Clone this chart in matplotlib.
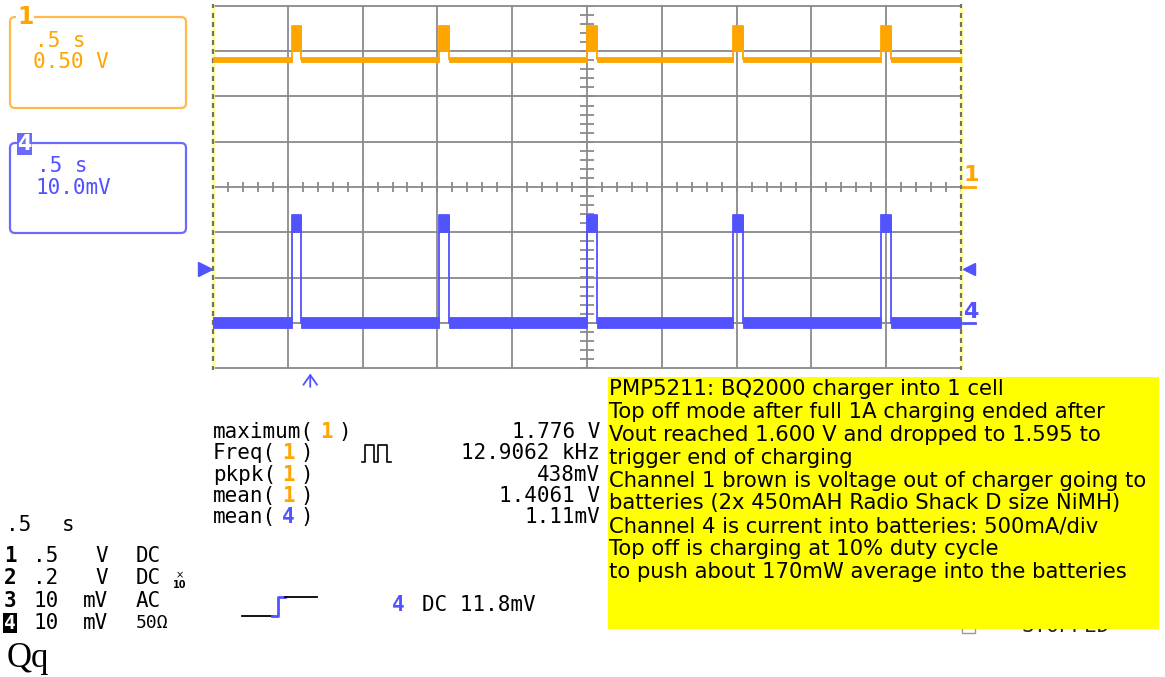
import numpy as np
import matplotlib
matplotlib.use("Agg")
import matplotlib.pyplot as plt
from matplotlib.patches import FancyBboxPatch, Rectangle
from matplotlib.lines import Line2D
from matplotlib.transforms import Affine2D, blended_transform_factory

W, H = 1165, 677

#acquisition settings
TIME_DIV = 0.5          # s/div
CH1_VDIV = 0.5          # V/div
CH4_VDIV = 10.0         # mV/div
CH1_POS = 0.0           # trace position, divisions
CH4_POS = -3.0
N_XDIV, N_YDIV = 10, 8

#top-off pulses, same instants on both channels (s)
pulse_start = [-1.970, -0.991, 0.000, 0.976, 1.965]
pulse_width = [0.060, 0.066, 0.066, 0.064, 0.064]

#channel 1: charger output voltage (V)
ch1_base = 1.41
ch1_noise = 0.025
ch1_pulse_low = 1.50
ch1_pulse_max = 1.776

#channel 4: current probe (mV)
ch4_base = 0.0
ch4_noise = 1.2
ch4_pulse_low = 20.0
ch4_pulse_max = 23.9
trig_level = 11.8       # mV
trig_time = -1.85       # s

#measurements panel
meas_names = ["maximum", "Freq", "pkpk", "mean", "mean"]
meas_chan = ["1", "1", "1", "1", "4"]
meas_values = ["1.776 V", "12.9062 kHz", "438mV", "1.4061 V", "1.11mV"]

#vertical setup table
chan_ids = ["1", "2", "3", "4"]
chan_scale = [".5", ".2", "10", "10"]
chan_unit = ["V", "V", "mV", "mV"]
chan_coupling = ["DC", "DC", "AC", "50Ω"]

notes = [
    "PMP5211: BQ2000 charger into 1 cell",
    "Top off mode after full 1A charging ended after",
    "Vout reached 1.600 V and dropped to 1.595 to",
    "trigger end of charging",
    "Channel 1 brown is voltage out of charger going to",
    "batteries (2x 450mAH Radio Shack D size NiMH)",
    "Channel 4 is current into batteries: 500mA/div",
    "Top off is charging at 10% duty cycle",
    "to push about 170mW average into the batteries",
]

ORANGE = "#ffa500"
ORANGE_BOX = "#ffb84a"
BLUE = "#5252ff"
BLUE_BOX = "#6a6aff"
GRID = "#8a8a8a"
MONO = "DejaVu Sans Mono"

fig = plt.figure(figsize=(W / 100, H / 100), dpi=100)
fig.patch.set_facecolor("white")
#pixel space, origin top-left
pix = Affine2D().scale(1 / W, -1 / H).translate(0, 1) + fig.transFigure
renderer = fig.canvas.get_renderer()


def T(x, y, s, **kw):
    kw.setdefault("va", "center")
    kw.setdefault("ha", "left")
    return fig.text(x, y, s, transform=pix, **kw)


def chain(x, y, parts, gap=2, **kw):
    #draw text pieces one after the other
    for s, color in parts:
        t = T(x, y, s, color=color, **kw)
        x = t.get_window_extent(renderer).x1 + gap
    return x


def pline(xs, ys, **kw):
    fig.add_artist(Line2D(xs, ys, transform=pix, **kw))


#graticule
ax = fig.add_axes([213 / W, 1 - 368 / H, 748 / W, 362 / H])
xmin, xmax = -N_XDIV / 2 * TIME_DIV, N_XDIV / 2 * TIME_DIV
ax.set_xlim(xmin, xmax)
ax.set_ylim(-N_YDIV / 2, N_YDIV / 2)
ax.axis("off")

xdivs = np.arange(-N_XDIV / 2, N_XDIV / 2 + 1) * TIME_DIV
for x in xdivs[1:-1]:
    ax.axvline(x, color=GRID, lw=1.3, zorder=1, clip_on=False)
for y in range(-N_YDIV // 2, N_YDIV // 2 + 1):
    ax.axhline(y, color=GRID, lw=1.3, zorder=1, clip_on=False)

minor_x = np.arange(-N_XDIV / 2, N_XDIV / 2 + 0.01, 0.2) * TIME_DIV
minor_y = np.arange(-N_YDIV / 2, N_YDIV / 2 + 0.01, 0.2)
ax.vlines(minor_x, -0.1, 0.1, color=GRID, lw=1.3, zorder=1)
ax.hlines(minor_y, -0.1 * TIME_DIV, 0.1 * TIME_DIV, color=GRID, lw=1.3, zorder=1)

#side edges: pale yellow with gray ticks
for x in (xmin, xmax):
    ax.axvline(x, color="#ffff80", lw=1.8, zorder=2, clip_on=False)
    ax.vlines([x] * len(minor_y), minor_y - 0.055, minor_y + 0.055,
              color="#707070", lw=1.6, zorder=3, clip_on=False)


def ch1_div(v):
    return np.asarray(v) / CH1_VDIV + CH1_POS


def ch4_div(mv):
    return np.asarray(mv) / CH4_VDIV + CH4_POS


def draw_trace(base, noise, lo, hi, color, conv):
    starts = np.array(pulse_start)
    ends = starts + np.array(pulse_width)
    seg_a = np.concatenate([[xmin], ends])
    seg_b = np.concatenate([starts, [xmax]])
    for a, b in zip(seg_a, seg_b):
        ax.fill_between([a, b], conv(base - noise), conv(base + noise),
                        color=color, lw=0.6, zorder=4)
    for s, e in zip(starts, ends):
        ax.fill_between([s, e], conv(lo), conv(hi), color=color, lw=0.6, zorder=4)
        ax.plot([s, s, e, e], conv([base, hi, hi, base]), color=color, lw=1.3, zorder=4)


draw_trace(ch1_base, ch1_noise, ch1_pulse_low, ch1_pulse_max, ORANGE, ch1_div)
draw_trace(ch4_base, ch4_noise, ch4_pulse_low, ch4_pulse_max, BLUE, ch4_div)

#reference and trigger markers beside the grid
edge = blended_transform_factory(ax.transAxes, ax.transData)
ax.plot([1.003, 1.019], [CH1_POS, CH1_POS], color=ORANGE, lw=2, transform=edge, clip_on=False)
ax.text(1.004, CH1_POS + 0.13, "1", color=ORANGE, fontsize=16, fontweight="bold",
        transform=edge, va="baseline", ha="left", clip_on=False)
ax.plot([1.003, 1.019], [CH4_POS, CH4_POS], color=BLUE, lw=2, transform=edge, clip_on=False)
ax.text(1.003, CH4_POS + 0.11, "4", color=BLUE, fontsize=16, fontweight="bold",
        transform=edge, va="baseline", ha="left", clip_on=False)
ax.plot([-0.011], ch4_div([trig_level]), marker=">", ms=10, color=BLUE,
        transform=edge, clip_on=False)
ax.plot([1.011], ch4_div([trig_level]), marker="<", ms=9, color=BLUE,
        transform=edge, clip_on=False)
ax.annotate("", xy=(trig_time, -4.06), xytext=(trig_time, -4.48),
            arrowprops=dict(arrowstyle="->,head_length=0.5,head_width=0.35", color=BLUE,
                            lw=1.3, mutation_scale=14), annotation_clip=False)

#channel boxes
fig.add_artist(FancyBboxPatch((10, 17), 176, 91, boxstyle="round,pad=0,rounding_size=5",
                              fc="none", ec=ORANGE_BOX, lw=1.6, transform=pix))
T(17, 17, "1", color=ORANGE, fontsize=17, fontweight="bold",
  bbox=dict(fc="white", ec="none", pad=0.5))
T(35, 41, ".5 s", color=ORANGE, family=MONO, fontsize=15)
T(33, 62, "0.50 V", color=ORANGE, family=MONO, fontsize=15)

fig.add_artist(FancyBboxPatch((10, 143), 176, 90, boxstyle="round,pad=0,rounding_size=5",
                              fc="none", ec=BLUE_BOX, lw=1.6, transform=pix))
fig.add_artist(Rectangle((17, 133), 15, 22, fc=BLUE_BOX, ec="none", transform=pix))
T(24.5, 144, "4", color="white", fontsize=15, fontweight="bold", ha="center")
T(37, 166, ".5 s", color=BLUE, family=MONO, fontsize=15)
T(35, 188, "10.0mV", color=BLUE, family=MONO, fontsize=15)

#measurements
for i, (name, ch, val) in enumerate(zip(meas_names, meas_chan, meas_values)):
    y = 432 + 21.3 * i
    col = ORANGE if ch == "1" else BLUE
    x = chain(213, y, [(name + "(", "black")], family=MONO, fontsize=15)
    x = chain(x + 4, y, [(ch, col)], family=MONO, fontsize=15, fontweight="bold")
    T(x + 4, y, ")", color="black", family=MONO, fontsize=15)
    T(600, y, val, color="black", family=MONO, fontsize=15, ha="right")

#square-wave icon next to Freq
pline([362, 365, 365, 374, 374, 378, 378, 387, 387, 391],
      [462, 462, 445, 445, 462, 462, 445, 445, 462, 462], color="black", lw=1.2)

#timebase and vertical setup
T(6, 525, ".5", color="black", family=MONO, fontsize=15)
T(62, 525, "s", color="black", family=MONO, fontsize=15)
for i, (cid, sc, un, cp) in enumerate(zip(chan_ids, chan_scale, chan_unit, chan_coupling)):
    y = 556 + 22.4 * i
    if cid == "4":
        T(4, y, cid, color="white", family=MONO, fontsize=14, fontweight="bold",
          bbox=dict(fc="black", ec="none", pad=0.6))
    else:
        T(4, y, cid, color="black", family=MONO, fontsize=15, fontweight="bold")
    T(33, y, sc, color="black", family=MONO, fontsize=15)
    T(108, y, un, color="black", family=MONO, fontsize=15, ha="right")
    T(136, y, cp, color="black", family=MONO, fontsize=15 if cp != "50Ω" else 13)
T(180, 575, "×", color="black", fontsize=7, ha="center")
T(180, 585, "10", color="black", fontsize=7, fontweight="bold", ha="center")

#trigger icon
pline([242, 273], [616, 616], color="black", lw=1.3)
pline([272, 278, 278, 285], [616, 616, 597, 597], color=BLUE, lw=2)
pline([285, 317], [597, 597], color="black", lw=1.3)
T(392, 605, "4", color=BLUE, family=MONO, fontsize=15, fontweight="bold")
T(422, 605, f"DC {trig_level}mV", color="black", family=MONO, fontsize=15)

#status line, partly hidden by the note
T(1022, 626, "STOPPED", color="#222222", family=MONO, fontsize=15, zorder=3)
fig.add_artist(Rectangle((962, 622), 13, 11, fc="none", ec="#999999", lw=1, transform=pix))

T(7, 667, "Qq", color="black", family="Liberation Serif", fontsize=25, va="baseline")

#note box
fig.add_artist(Rectangle((608, 377), 551, 252, fc="#ffff00", ec="none", transform=pix, zorder=10))
for i, line in enumerate(notes):
    T(609, 389 + 22.9 * i, line, color="black", family="DejaVu Sans", fontsize=15.2, zorder=11)

fig.savefig("out.png", dpi=100)
